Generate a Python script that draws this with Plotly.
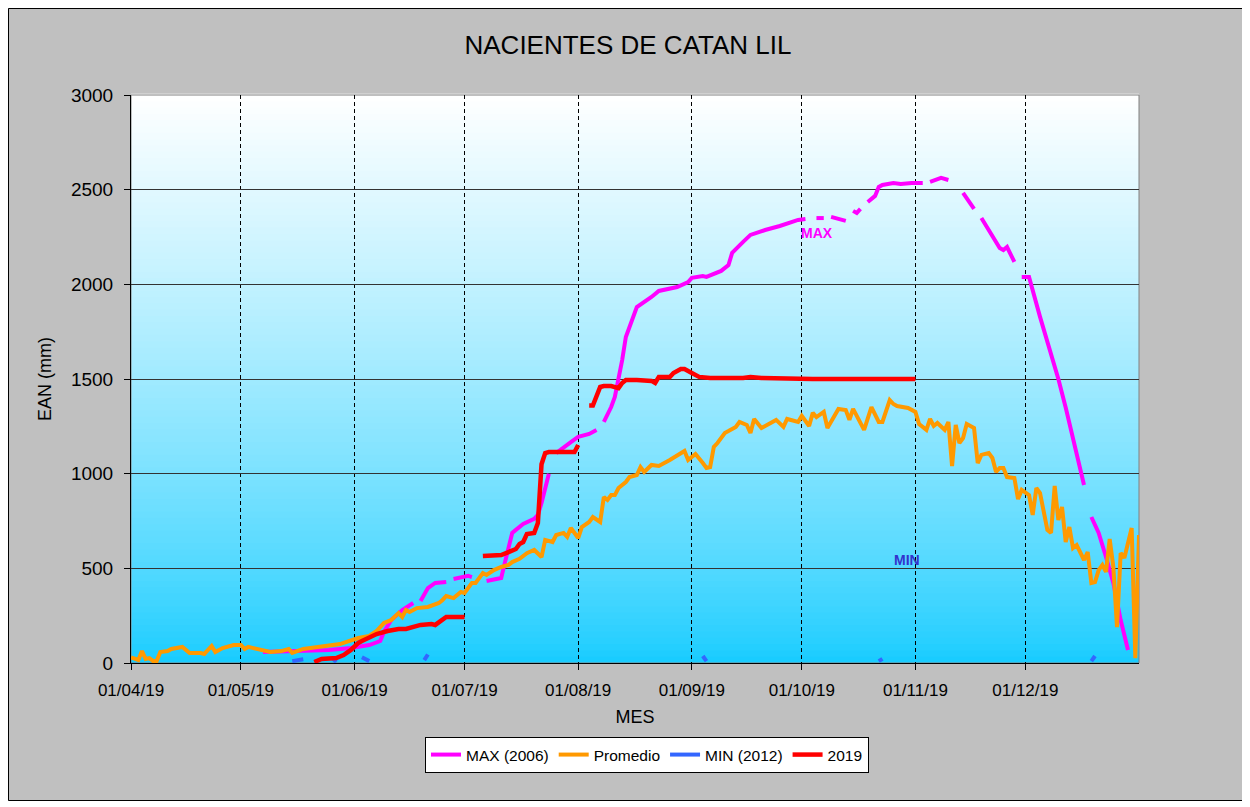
import pandas as pd
import plotly.graph_objects as go

START = pd.Timestamp("2019-04-01")
FONT = "Liberation Sans, Arial, sans-serif"

# ---- data (day offsets from 01/04/2019; None = missing day) ----
max_day = [36, 46, 54, 60, 63, 65, 68, 69, 71, 74, 77, 78,
           79, 81, 83, 86, 87,
           88, 92, 93, 95,
           97, 101, 102, 103, 104, 105, 107, 110, 111, 112, 113, 114, 115,
           116, 118, 120, 122, 125, 127, 128,
           129, 131, 132, 133, 134, 135, 137, 138, 142, 144, 149, 152, 153, 156, 157, 161,
           163, 164, 167, 169, 173, 177, 182, 184, 185,
           187, 189, 190, 191, 195, 196, 197, 198, 199, 200,
           201, 203, 204, 205, 208, 210, 213, 216, 217,
           218, 221, 223, 225, 227, 230, 231,
           232, 234, 237, 238, 239, 241, 242,
           243, 245, 248, 253, 255, 258, 259, 260, 261,
           262, 264, 266, 268, 270, 272]
max_val = [58, 63, 69, 79, 90, 95, 116, 164, 227, 280, 317, None,
           327, 396, 423, 428, None,
           444, 460, 454, None,
           433, 449, 530, 600, 687, 703, 734, 761, 782, 845, 930, 1000, None,
           1109, 1141, 1167, 1194, 1210, 1231, None,
           1273, 1352, 1405, 1495, 1600, 1722, 1822, 1880, 1933, 1965, 1986, 2012, 2034, 2044, 2039, 2071,
           2102, 2166, 2224, 2261, 2287, 2308, 2340, 2345, None,
           2350, 2350, None, 2356, 2335, None, 2388, 2377, 2398, None,
           2435, 2467, 2514, 2525, 2535, 2530, 2535, 2535, None,
           2541, 2562, 2551, None, 2483, 2398, None,
           2350, 2287, 2192, 2181, 2197, 2118, None,
           2039, 2039, 1828, 1500, 1350, 1110, 1020, 940, None,
           771, 687, 560, 423, 227, 69]

prom_day = [0, 2, 3, 4, 5, 6, 7, 8, 10, 11, 14, 16, 19, 20, 22, 23, 25, 28, 30, 31,
            32, 35, 38, 41, 43, 44, 47, 51, 54, 57, 62, 65, 67, 69, 71, 73, 74, 75, 76, 78,
            81, 84, 85, 86, 88, 90, 91, 93, 94, 96, 97, 99, 101, 103, 104, 106, 108, 110, 112, 113,
            115, 116, 118, 119, 120, 122, 123, 125, 126, 128, 129, 130, 131, 132, 133, 135, 136, 138, 139, 140,
            142, 144, 147, 151, 152, 153, 154, 156, 157, 158, 159, 160, 162, 163, 165, 166, 168, 169, 170, 172,
            174, 176, 178, 179, 182, 183, 185, 186, 187, 189, 190, 191, 193, 195, 196, 197, 200, 202, 204, 205,
            207, 208, 209, 212, 214, 215, 217, 218, 219, 220, 222, 223, 224, 225, 226, 227, 228, 230, 231, 232,
            234, 235, 236, 237, 238, 239, 241, 242, 243, 245, 246, 247, 248, 250, 251, 252, 253, 254, 255, 256,
            257, 258, 260, 261, 262, 263, 264, 265, 266, 267, 268, 269, 270, 271, 273, 274, 275]
prom_val = [30, 16, 63, 21, 26, 11, 11, 58, 63, 74, 85, 53, 53, 48, 90, 58, 79, 95, 95, 74,
            85, 74, 58, 63, 74, 53, 74, 85, 90, 100, 132, 143, 169, 211, 227, 264, 243, 280, 269, 290,
            296, 317, 333, 354, 343, 375, 370, 423, 423, 475, 465, 491, 507, 518, 533, 550, 580, 597, 560, 650,
            639, 676, 687, 666, 713, 660, 718, 745, 771, 745, 877, 861, 887, 887, 924, 956, 982, 993, 1035, 1009,
            1046, 1041, 1072, 1120, 1072, 1088, 1104, 1056, 1030, 1035, 1141, 1162, 1215, 1225, 1247, 1273, 1257, 1215, 1289, 1241,
            1262, 1284, 1247, 1289, 1273, 1305, 1252, 1321, 1299, 1326, 1241, 1278, 1342, 1336, 1284, 1342, 1231, 1352, 1273, 1273,
            1389, 1368, 1357, 1347, 1326, 1262, 1231, 1289, 1252, 1268, 1231, 1273, 1040, 1257, 1162, 1188, 1262, 1241, 1056, 1099,
            1109, 1083, 1009, 1030, 1030, 982, 977, 866, 914, 887, 782, 924, 898, 703, 687, 935, 755, 824, 639, 718,
            607, 623, 544, 586, 423, 428, 491, 518, 481, 655, 507, 190, 581, 555, 713, 26, 676]

min_day = [44, 47, 50, 55, 56, 60, 63, 65, 72, 80, 81, 120, 156, 157, 180, 204, 205, 230, 262, 263]
min_val = [10, 20, None, 25, 5, None, 30, 10, None, 15, 45, None, 37, 10, None, 10, 22, None, 10, 37]

y2019_day = [50, 52, 56, 58, 60, 62, 63, 65, 67, 70, 73, 75, 77, 79, 82, 83, 86, 91, 93,
             96, 101, 103, 105, 106, 107, 108, 110, 111, 112, 113, 114, 121, 122, 123,
             125, 126, 128, 129, 131, 133, 134, 135, 138, 142, 143, 144, 147, 148, 150, 151,
             153, 155, 158, 167, 169, 172, 186, 214]
y2019_val = [5, 21, 26, 42, 69, 106, 116, 132, 153, 169, 180, 180, 190, 201, 206, 201, 243, 243, None,
             565, 570, 586, 602, 629, 639, 681, 687, 739, 1050, 1109, 1114, 1114, 1151, None,
             1360, 1360, 1458, 1463, 1463, 1452, 1479, 1495, 1495, 1490, 1479, 1511, 1511, 1532, 1553, 1553,
             1532, 1511, 1505, 1505, 1511, 1505, 1500, 1500]

tick_dates = ["2019-04-01", "2019-05-01", "2019-06-01", "2019-07-01", "2019-08-01",
              "2019-09-01", "2019-10-01", "2019-11-01", "2019-12-01"]
tick_labels = ["01/04/19", "01/05/19", "01/06/19", "01/07/19", "01/08/19",
               "01/09/19", "01/10/19", "01/11/19", "01/12/19"]
y_ticks = [0, 500, 1000, 1500, 2000, 2500, 3000]

# label anchors (date, value)
max_label_pos = ("2019-10-05 05:00", 2271)
min_label_pos = ("2019-10-29 14:00", 544)


def to_dates(days):
    return [START + pd.Timedelta(days=d) for d in days]


W, H = 1235, 793
L, T, PW, PH = 123, 87, 1008, 568
R = W - L - PW
B = H - T - PH

fig = go.Figure()
series = [
    ("MAX (2006)", max_day, max_val, "#FF00FF", 4),
    ("Promedio", prom_day, prom_val, "#FF9900", 4),
    ("MIN (2012)", min_day, min_val, "#3366FF", 4),
    ("2019", y2019_day, y2019_val, "#FF0000", 4.5),
]
for name, d, v, col, w in series:
    fig.add_trace(go.Scatter(x=to_dates(d), y=v, mode="lines", name=name,
                             line=dict(color=col, width=w), connectgaps=False))

# ---- background: gradient plot area and outer border ----
shapes = []
N = 90
p = 0.75
for i in range(N):
    s = (i + 0.5) / N
    f = s ** p
    r = int(round(20 + 235 * f))
    g = int(round(203 + 52 * f))
    shapes.append(dict(type="rect", xref="paper", yref="paper", x0=0, x1=1,
                       y0=i / N, y1=(i + 1) / N + 0.002,
                       fillcolor=f"rgb({r},{g},255)", line=dict(width=0),
                       layer="below"))
shapes.append(dict(type="rect", xref="paper", yref="paper", x0=0, x1=1, y0=0, y1=1,
                   line=dict(color="#808080", width=1), layer="below"))
shapes.append(dict(type="rect", xref="paper", yref="paper",
                   x0=(0.5 - L) / PW, x1=(W - 0.5 - L) / PW,
                   y0=-(B - 0.5) / PH, y1=1 + (T - 0.5) / PH,
                   line=dict(color="black", width=1), layer="below"))

fig.update_layout(
    width=W, height=H, autosize=False,
    margin=dict(l=L, r=R, t=T, b=B, pad=0),
    paper_bgcolor="#C0C0C0", plot_bgcolor="rgba(0,0,0,0)",
    shapes=shapes,
    font=dict(family=FONT, color="black"),
    title=dict(text="NACIENTES DE CATAN LIL", x=620 / W, xref="container",
               y=1 - 37 / H, yref="container", xanchor="center", yanchor="middle",
               font=dict(size=26, family=FONT, color="black")),
    showlegend=True,
    legend=dict(orientation="h", x=(647 - 131) / PW, y=-(755 - 663) / PH,
                xanchor="center", yanchor="middle", xref="paper", yref="paper",
                bgcolor="white", bordercolor="black", borderwidth=1,
                font=dict(size=15.5, family=FONT, color="black"), itemwidth=30),
    annotations=[
        dict(text="<b>MAX</b>", x=max_label_pos[0], y=max_label_pos[1], xref="x", yref="y",
             showarrow=False, font=dict(size=14, color="#FF00FF", family=FONT)),
        dict(text="<b>MIN</b>", x=min_label_pos[0], y=min_label_pos[1], xref="x", yref="y",
             showarrow=False, font=dict(size=14, color="#3333CC", family=FONT)),
    ],
)

fig.update_xaxes(
    type="date", range=[START, START + pd.Timedelta(days=275)],
    tickvals=tick_dates, ticktext=tick_labels,
    showgrid=True, gridcolor="black", gridwidth=1, griddash="4px,3px",
    showline=True, linecolor="black", linewidth=1,
    ticks="outside", ticklen=6, tickcolor="black", ticklabelstandoff=6,
    tickfont=dict(size=17, family=FONT, color="black"),
    title=dict(text="MES", font=dict(size=18, family=FONT, color="black"), standoff=10),
    zeroline=False,
)
fig.update_yaxes(
    range=[0, 3000], tickvals=y_ticks,
    showgrid=True, gridcolor="#333333", gridwidth=1,
    showline=True, linecolor="black", linewidth=1,
    ticks="outside", ticklen=6, tickcolor="black", ticklabelstandoff=7,
    tickfont=dict(size=19, family=FONT, color="black"),
    title=dict(text="EAN (mm)", font=dict(size=18, family=FONT, color="black"), standoff=14),
    zeroline=False,
)

fig.write_html("out.html")
